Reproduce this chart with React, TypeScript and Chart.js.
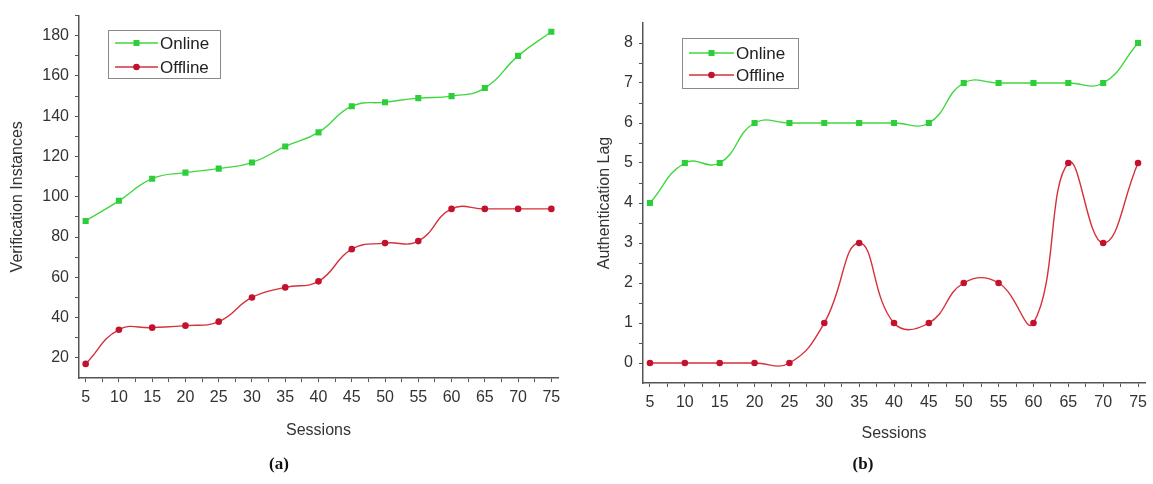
import React, { useEffect, useRef } from "react";
import { Chart, registerables } from "chart.js";

Chart.register(...registerables);

// ---------- data ----------
const sessions = [5, 10, 15, 20, 25, 30, 35, 40, 45, 50, 55, 60, 65, 70, 75];
const verificationOnline = [88, 98, 109, 112, 114, 117, 125, 132, 145, 147, 149, 150, 154, 170, 182];
const verificationOffline = [17, 34, 35, 36, 38, 50, 55, 58, 74, 77, 78, 94, 94, 94, 94];
const lagOnline = [4, 5, 5, 6, 6, 6, 6, 6, 6, 7, 7, 7, 7, 7, 8];
const lagOffline = [0, 0, 0, 0, 0, 1, 3, 1, 1, 2, 2, 1, 5, 3, 5];

const sessionTicks = [5, 10, 15, 20, 25, 30, 35, 40, 45, 50, 55, 60, 65, 70, 75];
const sessionMinorTicks = [7.5, 12.5, 17.5, 22.5, 27.5, 32.5, 37.5, 42.5, 47.5, 52.5, 57.5, 62.5, 67.5, 72.5];
const verificationTicks = [20, 40, 60, 80, 100, 120, 140, 160, 180];
const verificationMinorTicks = [30, 50, 70, 90, 110, 130, 150, 170, 190];
const lagTicks = [0, 1, 2, 3, 4, 5, 6, 7, 8];
const lagMinorTicks = [0.5, 1.5, 2.5, 3.5, 4.5, 5.5, 6.5, 7.5];

const seriesNames = ["Online", "Offline"];
const xTitle = "Sessions";
const yTitleA = "Verification Instances";
const yTitleB = "Authentication Lag";
const panelA = "(a)";
const panelB = "(b)";

// ---------- styles ----------
const SANS = "'Liberation Sans', Arial, sans-serif";
const TEXT = "#333333";
const AXIS = "#555555";
const GREEN_LINE = "#3ed83e";
const GREEN_PT = "#2ccf3a";
const RED_LINE = "#d6303c";
const RED_PT = "#c3122e";

const legendPlugin = {
  id: "boxLegend",
  afterDraw(chart: any, _args: any, opts: any) {
    const ctx = chart.ctx;
    const { x, y, w, h, rows, x1, x2, tx } = opts;
    ctx.save();
    ctx.fillStyle = "#ffffff";
    ctx.fillRect(x, y, w, h);
    ctx.strokeStyle = "#8a8a8a";
    ctx.lineWidth = 1;
    ctx.strokeRect(x + 0.5, y + 0.5, w, h);
    chart.data.datasets.forEach((ds: any, i: number) => {
      const ry = rows[i];
      ctx.strokeStyle = ds.borderColor;
      ctx.lineWidth = 1.5;
      ctx.beginPath();
      ctx.moveTo(x1, ry);
      ctx.lineTo(x2, ry);
      ctx.stroke();
      const cx = (x1 + x2) / 2;
      ctx.fillStyle = ds.pointBackgroundColor;
      if (ds.pointStyle === "rect") {
        ctx.fillRect(cx - 3, ry - 3, 6, 6);
      } else {
        ctx.beginPath();
        ctx.arc(cx, ry, 3.3, 0, Math.PI * 2);
        ctx.fill();
      }
      ctx.fillStyle = "#222";
      ctx.font = `17px ${SANS}`;
      ctx.textBaseline = "middle";
      ctx.textAlign = "left";
      ctx.fillText(ds.label, tx, ry + 1);
    });
    ctx.restore();
  },
};

function makeConfig(p: any) {
  const font = { family: SANS, size: 16 };
  const grid = {
    drawOnChartArea: false,
    drawTicks: true,
    tickLength: 4,
    color: AXIS,
    lineWidth: 1,
  };
  const border = { display: true, color: AXIS, width: 1.5 };
  return {
    type: "line",
    data: {
      datasets: [
        {
          label: seriesNames[0],
          data: sessions.map((s, i) => ({ x: s, y: p.online[i] })),
          borderColor: GREEN_LINE,
          borderWidth: 1.4,
          pointStyle: "rect",
          pointRadius: 4.3,
          pointBackgroundColor: GREEN_PT,
          pointBorderColor: GREEN_PT,
          pointBorderWidth: 0,
          tension: p.tension,
          fill: false,
        },
        {
          label: seriesNames[1],
          data: sessions.map((s, i) => ({ x: s, y: p.offline[i] })),
          borderColor: RED_LINE,
          borderWidth: 1.4,
          pointStyle: "circle",
          pointRadius: 3.3,
          pointBackgroundColor: RED_PT,
          pointBorderColor: RED_PT,
          pointBorderWidth: 0,
          tension: p.tension,
          fill: false,
        },
      ],
    },
    options: {
      responsive: false,
      animation: false,
      devicePixelRatio: 1,
      layout: { padding: { top: p.padTop, right: p.padRight, left: 0, bottom: 0 } },
      plugins: {
        legend: { display: false },
        tooltip: { enabled: false },
        title: {
          display: true,
          text: p.panel,
          position: "bottom",
          font: { family: "'Liberation Serif', 'Times New Roman', serif", size: 17, weight: "bold" },
          color: "#111",
          padding: { top: 0, bottom: 9 },
        },
        boxLegend: p.legend,
      },
      scales: {
        x: {
          type: "linear",
          min: 4,
          max: 76,
          afterBuildTicks: (s: any) => {
            s.ticks = [...sessionTicks, ...sessionMinorTicks]
              .sort((a, b) => a - b)
              .map((v) => ({ value: v }));
          },
          afterFit: (s: any) => {
            s.height = p.xHeight;
          },
          ticks: {
            autoSkip: false,
            maxRotation: 0,
            padding: 6,
            font,
            color: TEXT,
            callback: (v: any) => (sessionTicks.includes(v) ? String(v) : ""),
          },
          grid,
          border,
          title: {
            display: true,
            text: xTitle,
            font,
            color: TEXT,
            padding: { top: 0, bottom: p.xTitlePad },
          },
        },
        y: {
          type: "linear",
          min: p.yMin,
          max: p.yMax,
          afterBuildTicks: (s: any) => {
            s.ticks = [...p.yMajor, ...p.yMinor]
              .sort((a: number, b: number) => a - b)
              .map((v: number) => ({ value: v }));
          },
          afterFit: (s: any) => {
            s.width = p.yWidth;
          },
          ticks: {
            autoSkip: false,
            padding: 6,
            font,
            color: TEXT,
            callback: (v: any) => (p.yMajor.includes(v) ? String(v) : ""),
          },
          grid,
          border,
          title: {
            display: true,
            text: p.yTitle,
            font,
            color: TEXT,
            padding: { top: p.yTitlePad, bottom: 0 },
          },
        },
      },
    },
    plugins: [legendPlugin],
  };
}

function LineChart({ params, left, width }: any) {
  const ref = useRef<HTMLCanvasElement | null>(null);
  useEffect(() => {
    if (!ref.current) return;
    const chart = new Chart(ref.current, makeConfig(params) as any);
    return () => chart.destroy();
  }, []);
  return (
    <canvas
      ref={ref}
      width={width}
      height={484}
      style={{ position: "absolute", left, top: 0, width, height: 484 }}
    />
  );
}

const paramsA = {
  online: verificationOnline,
  offline: verificationOffline,
  tension: 0.45,
  padTop: 15,
  padRight: 18,
  xHeight: 76.6,
  xTitlePad: 14,
  yMin: 10,
  yMax: 190,
  yMajor: verificationTicks,
  yMinor: verificationMinorTicks,
  yWidth: 79,
  yTitle: yTitleA,
  yTitlePad: 8,
  panel: panelA,
  legend: { x: 108, y: 30, w: 112, h: 48, rows: [43, 67], x1: 115, x2: 158, tx: 160 },
};

const paramsB = {
  online: lagOnline,
  offline: lagOffline,
  tension: 0.45,
  padTop: 23,
  padRight: 3,
  xHeight: 71.6,
  xTitlePad: 11,
  yMin: -0.5,
  yMax: 8.5,
  yMajor: lagTicks,
  yMinor: lagMinorTicks,
  yWidth: 67,
  yTitle: yTitleB,
  yTitlePad: 19,
  panel: panelB,
  legend: { x: 106, y: 38, w: 116, h: 50, rows: [53, 75], x1: 113, x2: 158, tx: 160 },
};

export default function App() {
  return (
    <div style={{ position: "absolute", left: 0, top: 0, width: 1153, height: 484, background: "#fff" }}>
      <LineChart params={paramsA} left={0} width={576} />
      <LineChart params={paramsB} left={576} width={577} />
    </div>
  );
}
